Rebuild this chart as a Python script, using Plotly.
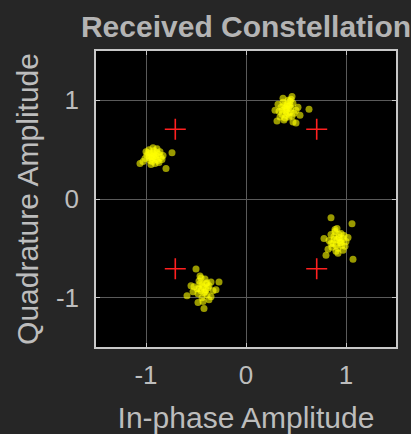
import plotly.graph_objects as go

# received symbols, one cluster per quadrant
x_ur = [0.41, 0.38, 0.44, 0.35, 0.47, 0.40, 0.33, 0.45, 0.42, 0.37, 0.50, 0.39, 0.43, 0.36, 0.46, 0.41, 0.32, 0.48, 0.40,
        0.44, 0.38, 0.52, 0.34, 0.42, 0.47, 0.39, 0.45, 0.36, 0.43, 0.41, 0.63, 0.46, 0.31, 0.50, 0.37, 0.29, 0.54, 0.44]
y_ur = [0.91, 0.95, 0.88, 0.93, 0.97, 0.85, 0.89, 0.92, 1.00, 0.98, 0.90, 0.82, 0.94, 0.86, 0.84, 0.96, 0.96, 0.87, 0.89,
        0.99, 0.80, 0.93, 0.83, 0.87, 0.78, 0.92, 1.01, 0.90, 0.83, 0.94, 0.91, 1.04, 0.79, 0.77, 1.02, 0.90, 0.85, 0.95]

x_ul = [-0.93, -0.96, -0.90, -0.99, -0.87, -0.92, -1.01, -0.94, -0.89, -0.97, -0.85, -0.91, -0.95, -0.88, -1.03, -0.93, -0.90,
        -0.98, -0.86, -0.94, -0.74, -1.06, -0.80, -0.92, -0.96, -0.89, -0.83, -1.00, -0.95, -0.91, -0.97, -0.87, -0.93, -0.84]
y_ul = [0.43, 0.46, 0.40, 0.44, 0.45, 0.49, 0.41, 0.38, 0.47, 0.50, 0.42, 0.36, 0.43, 0.39, 0.38, 0.52, 0.44,
        0.47, 0.48, 0.41, 0.47, 0.36, 0.31, 0.45, 0.39, 0.51, 0.44, 0.48, 0.35, 0.42, 0.42, 0.37, 0.46, 0.40]

x_lr = [0.91, 0.88, 0.94, 0.85, 0.97, 0.90, 0.83, 0.95, 0.92, 0.87, 1.00, 0.89, 0.93, 0.86, 0.96, 0.91, 0.80,
        0.98, 0.90, 0.94, 0.85, 0.85, 1.06, 1.07, 0.78, 0.92, 0.97, 0.88, 1.02, 0.93, 0.82, 0.95, 0.89, 0.99]
y_lr = [-0.41, -0.38, -0.44, -0.36, -0.40, -0.47, -0.42, -0.35, -0.50, -0.45, -0.43, -0.33, -0.39, -0.49, -0.47, -0.30, -0.57,
        -0.37, -0.53, -0.42, -0.45, -0.19, -0.25, -0.61, -0.40, -0.55, -0.52, -0.41, -0.39, -0.36, -0.51, -0.44, -0.31, -0.48]

x_ll = [-0.43, -0.40, -0.46, -0.37, -0.49, -0.42, -0.35, -0.47, -0.44, -0.39, -0.52, -0.41, -0.45, -0.38, -0.48, -0.43, -0.50,
        -0.27, -0.59, -0.42, -0.35, -0.55, -0.33, -0.46, -0.40, -0.44, -0.37, -0.48, -0.41, -0.45, -0.53, -0.30, -0.39, -0.47]
y_ll = [-0.89, -0.92, -0.86, -0.88, -0.91, -0.95, -0.84, -0.83, -1.00, -0.97, -0.89, -0.81, -0.93, -0.90, -0.96, -1.04, -0.71,
        -0.84, -0.98, -1.11, -0.99, -0.88, -0.93, -0.78, -0.86, -0.87, -1.02, -1.05, -0.94, -0.80, -0.94, -0.92, -0.85, -0.91]

# ideal QPSK reference points
ref_x = [0.7071, -0.7071, -0.7071, 0.7071]
ref_y = [0.7071, 0.7071, -0.7071, -0.7071]

tick_vals = [-1, 0, 1]
tick_text = ['-1', '0', '1']

rx = x_ur + x_ul + x_lr + x_ll
ry = y_ur + y_ul + y_lr + y_ll

FONT = 'Liberation Sans, Arial'

fig = go.Figure()
fig.add_trace(go.Scatter(
    x=rx, y=ry, mode='markers',
    marker=dict(color='#ffff00', size=7, opacity=0.6,
                line=dict(width=0)),
    showlegend=False,
))
fig.add_trace(go.Scatter(
    x=ref_x, y=ref_y, mode='markers',
    marker=dict(symbol='cross-thin', size=15,
                line=dict(color='#ff2020', width=1.6)),
    showlegend=False,
))

axis_common = dict(
    range=[-1.5, 1.5],
    tickvals=tick_vals,
    ticktext=tick_text,
    showgrid=True,
    gridcolor='#5a5a5a',
    gridwidth=1,
    zeroline=False,
    showline=True,
    linecolor='#c8c8c8',
    linewidth=1.5,
    mirror='allticks',
    ticks='inside',
    ticklen=4,
    tickcolor='#c8c8c8',
    automargin=False,
    tickfont=dict(family=FONT, size=26, color='#bdbdbd'),
    fixedrange=True,
)

fig.update_layout(
    width=411, height=434,
    margin=dict(l=96, r=15, t=51, b=87),
    paper_bgcolor='#262626',
    plot_bgcolor='#000000',
    title=dict(text='<b>Received Constellation</b>',
               font=dict(family=FONT, size=30, color='#b4b4b4'),
               x=0.5, xanchor='center', xref='paper',
               y=0.94, yanchor='middle'),
    xaxis=dict(axis_common, ticklabelstandoff=4,
               title=dict(text='In-phase Amplitude', standoff=18,
                          font=dict(family=FONT, size=30, color='#bdbdbd'))),
    yaxis=dict(axis_common, ticklabelstandoff=10,
               title=dict(text='Quadrature Amplitude', standoff=8,
                          font=dict(family=FONT, size=30, color='#bdbdbd'))),
)

# drop the default page margin so the figure sits at the window's corner
fig.write_html("out.html", config={'displayModeBar': False}, post_script=(
    "document.body.style.margin='0';"
    "document.body.style.background='#262626';"
    "document.body.style.overflow='hidden';"
))
